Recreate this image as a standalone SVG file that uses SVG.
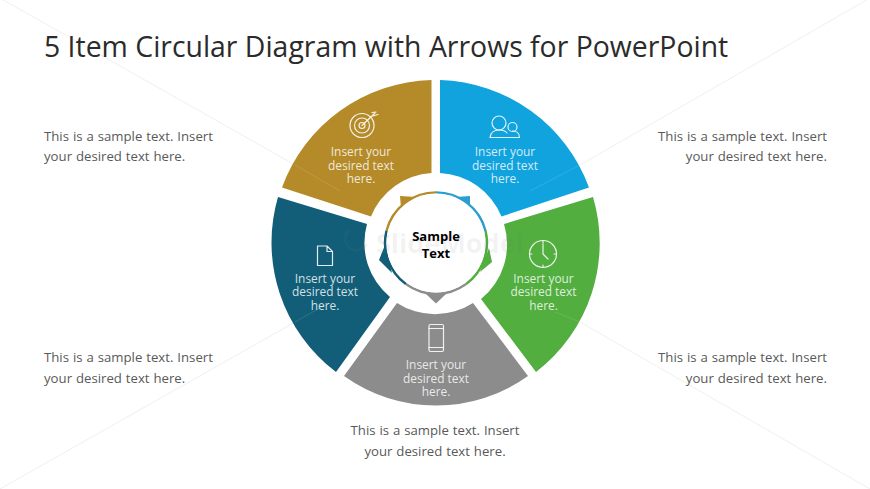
<svg xmlns="http://www.w3.org/2000/svg" width="870" height="489" viewBox="0 0 870 489">
<style>
text{font-family:"Open Sans","Noto Sans","Liberation Sans",sans-serif}
.t{font-size:28.4px;fill:#2b2b2b}
.b{font-size:13.2px;fill:#595959;word-spacing:.5px}
.s{font-size:11.9px;text-anchor:middle;fill-opacity:.82;fill:#fff}
.i{fill:none;stroke:#fff;stroke-opacity:.88;stroke-width:1.2;stroke-linecap:round;stroke-linejoin:round}
.bg{stroke:#efefef;stroke-width:1;fill:none}
.c{font-size:13px;font-weight:700;fill:#000;text-anchor:middle}
.r{fill:none;stroke-width:2.6}
.l{fill:none;stroke:#fff;stroke-opacity:.12;stroke-width:1}
</style>
<rect width="870" height="489" fill="#fff"/>
<g id="background-lines">
<path class="bg" d="M0 -2L295 165M870 -2L580 165M0 489L295 322M870 489L580 322"/>
</g>
<text id="title" class="t" x="44" y="57">5 Item Circular Diagram with Arrows for PowerPoint</text>
<g id="seg-gold">
<path d="M431.500 80A164 163 0 0 0 282 187.500L371 216.500A70 70 0 0 1 431.500 173Z" fill="#b58b29"/>
<path class="l" d="M295 165L340 191"/>
<g class="i"><circle cx="362" cy="125.500" r="12"/><circle cx="362" cy="125.500" r="7.500"/><circle cx="362" cy="125.500" r="3"/><path d="M362 125.500L375 113M372 112.500L376 112M373 116L378 114.500"/></g>
<text class="s" x="361" y="156">Insert your</text><text class="s" x="361" y="170">desired text</text><text class="s" x="361" y="183">here.</text>
</g>
<g id="seg-blue">
<path d="M440 80A164 163 0 0 1 589 187.500L501.500 216.500A70 70 0 0 0 440 173Z" fill="#11a3de"/>
<path class="l" d="M580 165L530 191"/>
<g class="i"><circle cx="499" cy="123" r="7"/><path d="M490 137.500C490.500 132 495 130 499 130C503 130 505.500 131 507 133M490 137.500H519.500C519.500 133 516 131 512.500 131"/><circle cx="512.500" cy="127" r="4.500"/></g>
<text class="s" x="505" y="156">Insert your</text><text class="s" x="505" y="170">desired text</text><text class="s" x="505" y="183">here.</text>
</g>
<g id="seg-green">
<path d="M593 197A164 163 0 0 1 536 372L481 299A70 70 0 0 0 504 224Z" fill="#51ae3f"/>
<path class="l" d="M555 312L580 322"/>
<g class="i"><circle cx="543" cy="254" r="13.500"/><path d="M543 244V254L548 259M543 240.500V243M543 265V267.500M529.500 254H532M554 254H556.500"/></g>
<text class="s" x="543.500" y="283">Insert your</text><text class="s" x="543.500" y="296">desired text</text><text class="s" x="543.500" y="310">here.</text>
</g>
<g id="seg-gray">
<path d="M397 303L344 376A158 158 0 0 0 528 376L473 303A70 70 0 0 1 397 303Z" fill="#8c8c8c"/>
<g class="i"><rect x="429" y="324.500" width="14.500" height="27" rx="1.500"/><path d="M429 328.500H443.500M429 347.500H443.500"/></g>
<text class="s" x="436" y="369">Insert your</text><text class="s" x="436" y="383">desired text</text><text class="s" x="436" y="396">here.</text>
</g>
<g id="seg-teal">
<path d="M278 197A164 163 0 0 0 336 372L390 297A70 70 0 0 1 367 224Z" fill="#125e78"/>
<path class="l" d="M295 322L325 305"/>
<g class="i"><path d="M317.500 246H327L332.500 251.500V265.500H317.500ZM327 246V251.500H332.500"/></g>
<text class="s" x="325" y="283">Insert your</text><text class="s" x="325" y="296">desired text</text><text class="s" x="325" y="310">here.</text>
</g>
<g id="center">
<path class="r" stroke="#b58b29" d="M386.500 231A51 51 0 0 1 436 192.500"/>
<path class="r" stroke="#2a9fcf" d="M436 192.500A51 51 0 0 1 485.500 231"/>
<path class="r" stroke="#51ae3f" d="M485.500 231A51 51 0 0 1 466 284"/>
<path class="r" stroke="#8c8c8c" d="M466 284A51 51 0 0 1 406 284"/>
<path class="r" stroke="#125e78" d="M406 284A51 51 0 0 1 386.500 231"/>
<polygon points="400,196 416,197 401,208" fill="#b58b29"/>
<polygon points="470,196 456,197 470,208" fill="#2a9fcf"/>
<polygon points="492,262 489,248 480,272" fill="#51ae3f"/>
<polygon points="379,260 385,245 392,273" fill="#125e78"/>
<polygon points="436,303.500 426,294 446,294" fill="#8c8c8c"/>
<circle cx="436" cy="243" r="49.500" fill="#fff"/>
<g fill="#777" fill-opacity=".09">
<text x="376" y="253" style="font-size:27px;font-weight:700">SlideModel</text>
<path d="M349 228A13 13 0 1 0 368 245L364 243A9 9 0 1 1 351 232Z"/>
</g>
<text x="436" y="241" class="c">Sample</text><text x="436" y="258" class="c">Text</text>
</g>
<g id="notes">
<text class="b" x="44" y="141">This is a sample text. Insert</text><text class="b" x="44" y="161">your desired text here.</text>
<text class="b" x="44" y="362">This is a sample text. Insert</text><text class="b" x="44" y="383">your desired text here.</text>
<text class="b" x="827" y="141" text-anchor="end">This is a sample text. Insert</text><text class="b" x="827" y="161" text-anchor="end">your desired text here.</text>
<text class="b" x="827" y="362" text-anchor="end">This is a sample text. Insert</text><text class="b" x="827" y="383" text-anchor="end">your desired text here.</text>
<text class="b" x="435" y="435" text-anchor="middle">This is a sample text. Insert</text><text class="b" x="435" y="456" text-anchor="middle">your desired text here.</text>
</g>
</svg>
